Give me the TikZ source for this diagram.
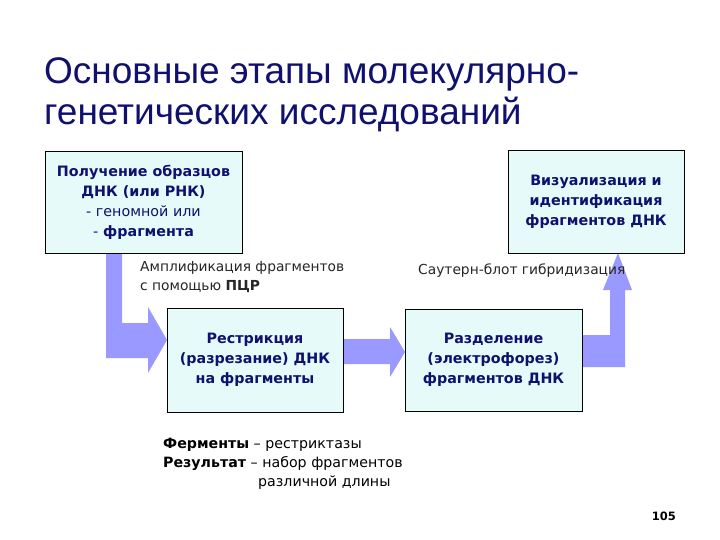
\documentclass[tikz,border=0pt]{standalone}
\usepackage{fontspec}
\setmainfont{Liberation Sans}
\newfontfamily\tah{DejaVu Sans}
\definecolor{navy}{RGB}{16,16,110}
\definecolor{boxfill}{RGB}{230,250,250}
\definecolor{arrowfill}{RGB}{153,153,255}
\tikzset{
  stepbox/.style={draw=black, line width=0.8pt, fill=boxfill, align=center,
    text=navy, font=\tah\bfseries\fontsize{14.3}{20}\selectfont, inner sep=2pt},
  blockarrow/.style={fill=arrowfill, draw=none},
  note/.style={font=\tah\fontsize{13.8}{19}\selectfont, text=black!85, inner sep=0pt, align=left},
  result/.style={font=\tah\fontsize{14.2}{19}\selectfont, text=black, inner sep=0pt, align=left}
}
\begin{document}
\begin{tikzpicture}[x=1pt,y=-1pt]
\useasboundingbox (0,0) rectangle (720,540);
\fill[white] (0,0) rectangle (720,540);

% title
\node[anchor=base west, text=navy, font=\fontsize{37}{41}\selectfont, inner sep=0pt] (t1) at (44,84) {Основные этапы молекулярно-};
\node[anchor=base west, text=navy, font=\fontsize{37}{41}\selectfont, inner sep=0pt] (t2) at (44,125) {генетических исследований};

% arrows
\fill[blockarrow] (106,252) -- (122,252) -- (122,323) -- (148,323) -- (148,307) -- (167,340)
  -- (148,373) -- (148,358) -- (106,358) -- cycle;
\fill[blockarrow] (343,339) -- (390,339) -- (390,327) -- (405,352) -- (390,377) -- (390,364) -- (343,364) -- cycle;
\fill[blockarrow] (582,335) -- (610,335) -- (610,290) -- (603,290) -- (618,253) -- (632,290)
  -- (625,290) -- (625,367) -- (582,367) -- cycle;

% boxes
\node[stepbox, minimum width=197pt, minimum height=102pt] (b1) at (143.5,202)
  {Получение образцов\\ДНК (или РНК)\\{\mdseries - геномной или}\\{\mdseries -} фрагмента};
\node[stepbox, minimum width=176pt, minimum height=103pt] (b2) at (596,201.5)
  {Визуализация и\\идентификация\\фрагментов ДНК};
\node[stepbox, minimum width=176pt, minimum height=104pt] (b3) at (255,360)
  {Рестрикция\\(разрезание) ДНК\\на фрагменты};
\node[stepbox, minimum width=177pt, minimum height=102pt] (b4) at (493.5,360)
  {Разделение\\(электрофорез)\\фрагментов ДНК};

% notes
\node[note, anchor=base west] (n1) at (140,271) {Амплификация фрагментов};
\node[note, anchor=base west] (n2) at (140,290) {с помощью {\bfseries ПЦР}};
\node[note, anchor=base west] (n3) at (418,274) {Саутерн-блот гибридизация};

\node[result, anchor=base west] (r1) at (163,448) {{\bfseries Ферменты} – рестриктазы};
\node[result, anchor=base west] (r2) at (163,467) {{\bfseries Результат} – набор фрагментов};
\node[result, anchor=base west] (r3) at (258,486) {различной длины};

\node[anchor=base east, font=\tah\bfseries\fontsize{11.5}{13}\selectfont, inner sep=0pt] (pg) at (676,520) {105};
\end{tikzpicture}
\end{document}
